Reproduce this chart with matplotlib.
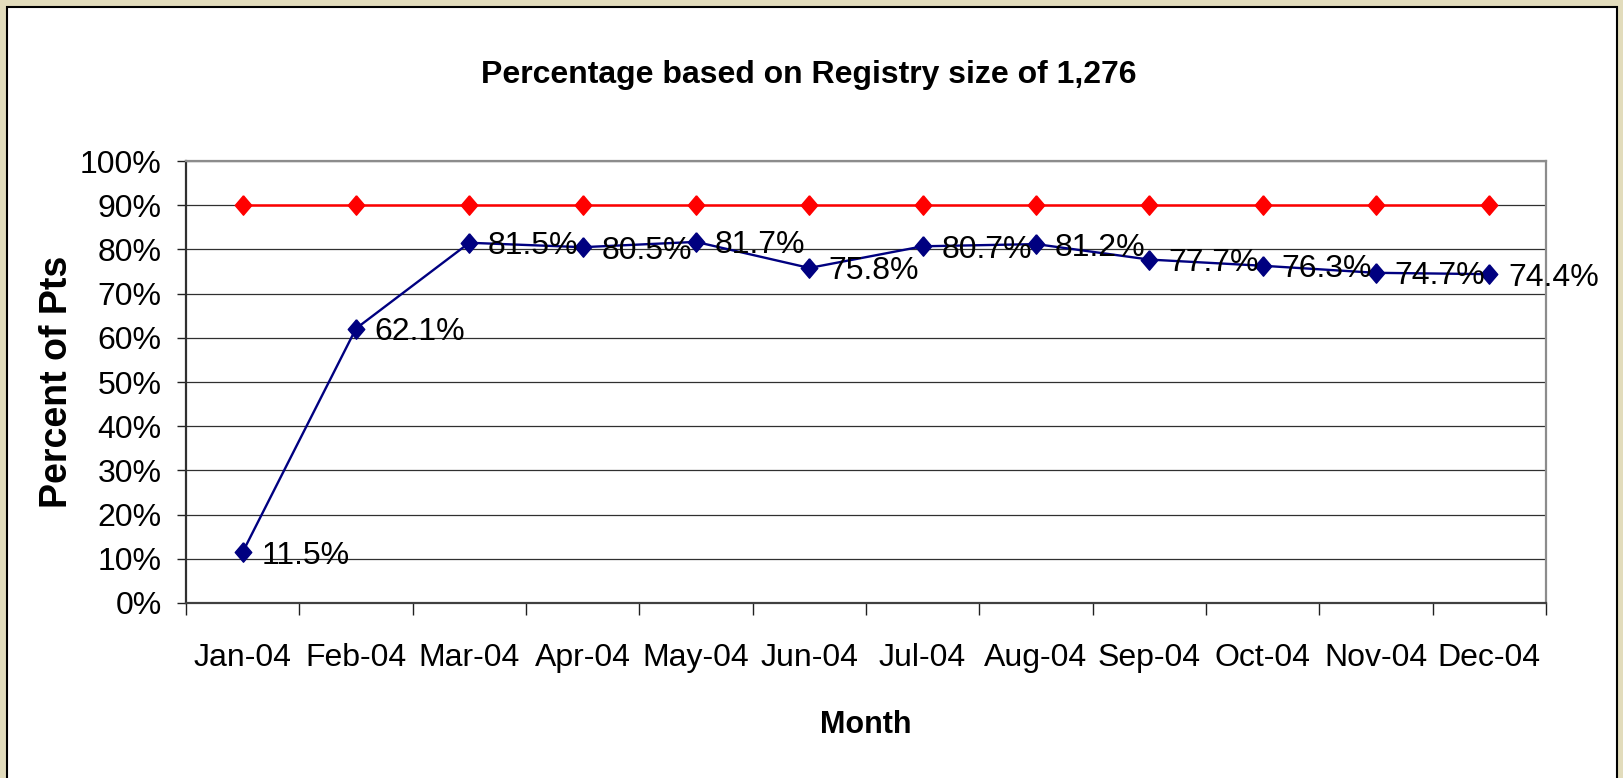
import matplotlib
matplotlib.use("Agg")
import matplotlib.pyplot as plt
import matplotlib.patches as mpatches
from matplotlib.ticker import FixedLocator, PercentFormatter
import numpy as np

# data
months = ["Jan-04", "Feb-04", "Mar-04", "Apr-04", "May-04", "Jun-04",
          "Jul-04", "Aug-04", "Sep-04", "Oct-04", "Nov-04", "Dec-04"]
pct_pts = [11.5, 62.1, 81.5, 80.5, 81.7, 75.8, 80.7, 81.2, 77.7, 76.3, 74.7, 74.4]
target = [90, 90, 90, 90, 90, 90, 90, 90, 90, 90, 90, 90]

W, H = 1623, 778
FONT = ["Liberation Sans", "DejaVu Sans"]
NUM_SIZE = 23

fig = plt.figure(figsize=(W / 100, H / 100), dpi=100)
fig.patch.set_facecolor("#E2DCBC")

# white chart panel with black frame
panel = mpatches.Rectangle((7 / W, -0.02), (1617 - 7) / W, 1.02 - 7 / H,
                           transform=fig.transFigure, facecolor="white",
                           edgecolor="black", linewidth=1.5, zorder=-5)
fig.patches.append(panel)

ax = fig.add_axes([186 / W, 1 - 603 / H, (1546 - 186) / W, (603 - 161) / H])
ax.set_facecolor("white")

x = np.arange(len(months))
diamond = [(0, 1), (0.85, 0), (0, -1), (-0.85, 0), (0, 1)]

ax.plot(x, target, color="#FF0000", lw=1.8, marker=diamond, markersize=14,
        markerfacecolor="#FF0000", markeredgecolor="#FF0000", zorder=3,
        clip_on=False)
ax.plot(x, pct_pts, color="#000080", lw=1.7, marker=diamond, markersize=14,
        markerfacecolor="#000080", markeredgecolor="#000080", zorder=4,
        clip_on=False)

for xi, v in zip(x, pct_pts):
    ax.annotate(f"{v:.1f}%", (xi, v), xytext=(13.5, -2.5),
                textcoords="offset points", ha="left", va="center",
                fontsize=NUM_SIZE, family=FONT, color="black", zorder=5,
                annotation_clip=False)

ax.set_xlim(-0.5, len(months) - 0.5)
ax.set_ylim(0, 100)

ax.yaxis.set_major_locator(FixedLocator(np.arange(0, 101, 10)))
ax.yaxis.set_major_formatter(PercentFormatter(decimals=0))
ax.tick_params(axis="y", direction="out", length=6.5, width=1, color="#202020",
               pad=11, labelsize=NUM_SIZE)
for lab in ax.get_yticklabels():
    lab.set_family(FONT)

ax.xaxis.set_major_locator(FixedLocator(np.arange(-0.5, len(months), 1.0)))
ax.xaxis.set_minor_locator(FixedLocator(x))
ax.set_xticklabels([], minor=False)
ax.set_xticklabels(months, minor=True)
ax.tick_params(axis="x", which="major", direction="out", length=8.6, width=1,
               color="#202020")
ax.tick_params(axis="x", which="minor", length=0, pad=29, labelsize=NUM_SIZE)
for lab in ax.get_xticklabels(minor=True):
    lab.set_family(FONT)

ax.grid(axis="y", color="#303030", lw=0.9)
ax.set_axisbelow(True)

ax.spines["left"].set_color("#303030")
ax.spines["bottom"].set_color("#404040")
ax.spines["top"].set_color("#8C8C8C")
ax.spines["right"].set_color("#8C8C8C")
for s in ax.spines.values():
    s.set_linewidth(1.6)

fig.text(809 / W, 1 - 83 / H, "Percentage based on Registry size of 1,276",
         ha="center", va="baseline", fontsize=23, fontweight="bold", family=FONT)
fig.text(866 / W, 1 - 733 / H, "Month", ha="center", va="baseline",
         fontsize=22, fontweight="bold", family=FONT)
fig.text(57 / W, 1 - 382 / H, "Percent of Pts", ha="center", va="center",
         rotation=90, fontsize=27, fontweight="bold", family=FONT)

fig.savefig("out.png", dpi=100, facecolor=fig.get_facecolor())
